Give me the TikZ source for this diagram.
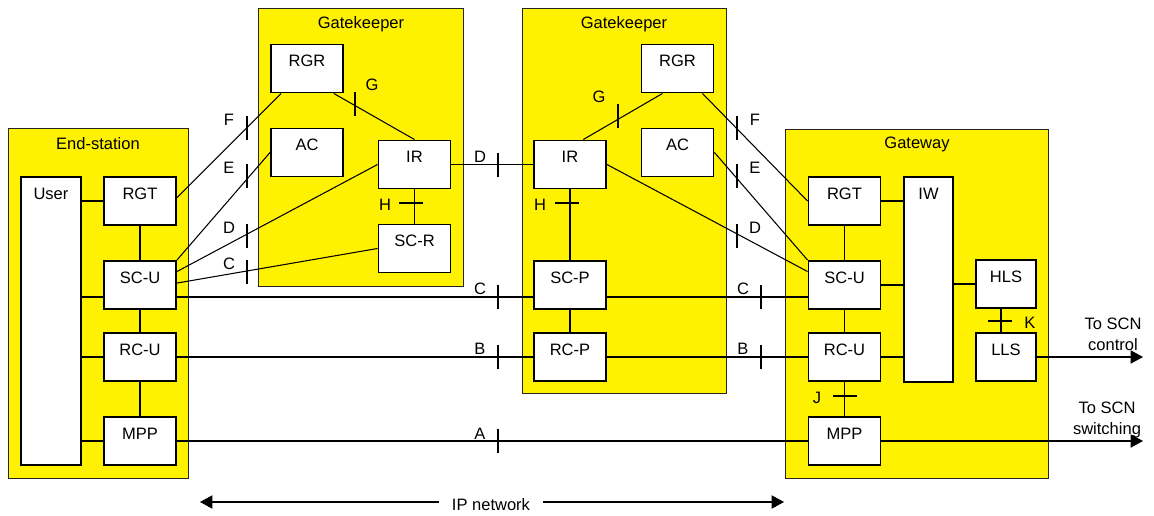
\documentclass[tikz,border=0pt]{standalone}
\usepackage{fontspec}
\setmainfont{Liberation Sans}
\usepackage{xcolor}
\usepackage{tikz}
\usetikzlibrary{arrows.meta}

\begin{document}
\begin{tikzpicture}[%
%
    x=0.02cm, y=-0.02cm,
    font=\fontsize{9.4}{12}\selectfont,
    zone/.style={draw=black!85, fill=yellow, line width=0.55pt},
    box/.style={draw, fill=white, line width=1.1pt, inner sep=0pt,
        minimum width=1.44cm, minimum height=0.96cm,
        text height=7pt, text depth=9.2pt},
    wire/.style={line width=0.6pt},
    lbl/.style={inner sep=0pt},
     Arr/.style={-{Triangle[length=7pt, width=7.5pt]}},
                        ]
    \useasboundingbox (0,0) rectangle (1154,516);

    % domains
    \draw[zone] (8,128) rectangle (188,478);
    \draw[zone] (258,8) rectangle (463,286);
    \draw[zone] (522,8) rectangle (726,393);
    \draw[zone] (785,129) rectangle (1048,478);
    \node[lbl] (es_title) at (98,144) {End-station};
    \node[lbl] (gk_title) at (361,24) {Gatekeeper};
    \node[lbl] (pk_title) at (624,24) {Gatekeeper};
    \node[lbl] (gw_title) at (917,144) {Gateway};

    % end-station
    \node[box, minimum width=1.2cm, minimum height=5.76cm, text depth=145.3pt] (user) at (51,321) {User};
    \node[box] (ergt) at (140,201) {RGT};
    \node[box] (escu) at (140,285) {SC-U};
    \node[box] (ercu) at (140,357) {RC-U};
    \node[box] (empp) at (140,441) {MPP};

    % first gatekeeper
    \node[box] (grgr) at (307,68.5) {RGR};
    \node[box] (gac)  at (307,152.5) {AC};
    \node[box] (gir)  at (414.5,164.5) {IR};
    \node[box] (gscr) at (414.5,248.5) {SC-R};

    % second gatekeeper
    \node[box] (prgr) at (677.5,68.5) {RGR};
    \node[box] (pac)  at (677.5,152.5) {AC};
    \node[box] (pir)  at (570,164.5) {IR};
    \node[box] (pscp) at (570,285) {SC-P};
    \node[box] (prcp) at (570,357) {RC-P};

    % gateway
    \node[box] (wrgt) at (844.5,201) {RGT};
    \node[box] (wscu) at (844.5,285) {SC-U};
    \node[box] (wrcu) at (844.5,357) {RC-U};
    \node[box] (wmpp) at (844.5,441) {MPP};
    \node[box, minimum width=0.98cm, minimum height=4.1cm, text depth=98.2pt] (wiw) at (928.5,279.5) {IW};
    \node[box, minimum width=1.2cm] (whls) at (1006,284) {HLS};
    \node[box, minimum width=1.2cm] (wlls) at (1006,357) {LLS};

    \node[lbl, align=center, anchor=north] (ctl_txt) at (1113,318) {To SCN\\control};
    \node[lbl, align=center, anchor=north] (sw_txt) at (1107,402) {To SCN\\switching};
    \coordinate (ctl_end) at (1143,357);
    \coordinate (sw_end) at (1143,441);

    \node[lbl] (ipnet) at (491,505) {IP network};
    \coordinate (ip_l) at (200,502);
    \coordinate (ip_r) at (784,502);

    % inside the end-station
    \draw[wire] (user.east |- ergt.west) -- (ergt.west);
    \draw[wire] (user.east |- escu.198) -- (escu.198);
    \draw[wire] (user.east |- ercu.west) -- (ercu.west);
    \draw[wire] (user.east |- empp.west) -- (empp.west);
    \draw[wire] (ergt) -- (escu) -- (ercu) -- (empp);

    % inside the gatekeepers
    \draw[wire] (grgr.317) -- (gir.north);
    \draw[wire] (gir) -- (gscr);
    \draw[wire] (prgr.239) -- (pir.62);
    \draw[wire] (pir) -- (pscp) -- (prcp);

    % inside the gateway
    \draw[wire] (wrgt) -- (wscu) -- (wrcu) -- (wmpp);
    \draw[wire] (wrgt.east) -- (wiw.west |- wrgt.east);
    \draw[wire] (wscu.east) -- (wiw.west |- wscu.east);
    \draw[wire] (wrcu.east) -- (wiw.west |- wrcu.east);
    \draw[wire] (wiw.east |- whls.west) -- (whls.west);
    \draw[wire] (whls.south -| 1001,0) -- (wlls.north -| 1001,0);

    % between the domains
    \draw[wire] (ergt.5) -- (grgr.224);
    \draw[wire] (escu.north east) -- (gac.west);
    \draw[wire] (escu.20) -- (gir.west);
    \draw[wire] (escu.3) -- (gscr.west);
    \draw[wire] (gir.east) -- (pir.west);
    \draw[wire] (escu.342) -- (pscp.198);
    \draw[wire] (ercu.east) -- (prcp.west);
    \draw[wire] (empp.east) -- (wmpp.west);
    \draw[wire] (prgr.315) -- (wrgt.west);
    \draw[wire] (pac.east) -- (wscu.north west);
    \draw[wire] (pir.east) -- (wscu.160);
    \draw[wire] (pscp.342) -- (wscu.198);
    \draw[wire] (prcp.east) -- (wrcu.west);

    % to the SCN
    \draw[wire, Arr] (wlls.east) -- (ctl_end);
    \draw[wire, Arr] (wmpp.east) -- (sw_end);

    % IP network
    \draw[wire, Arr] (ipnet.west |- ip_l) ++(-13,0) -- (ip_l);
    \draw[wire, Arr] (ipnet.east |- ip_r) ++(13,0) -- (ip_r);

    % reference points
    \foreach \x/\y/\lx/\ly/\t in {247/128/229/120/F, 247/176/229/168/E, 247/236/229/228/D, 247/272/229/264/C,
        498/165/480/157/D, 498/297/480/289/C, 498/357/480/349/B, 498/441/480/434/A,
        737/128/755/120/F, 737/176/755/168/E, 737/236/755/228/D,
        761/297/743/289/C, 761/357/743/349/B,
        355/104/372/85/G, 618/116/599/97/G}
    {
        \draw[wire] (\x,\y-12) -- (\x,\y+12);
        \node[lbl] (rp-\x-\y) at (\lx,\ly) {\t};
    }
    \foreach \x/\y/\lx/\t in {399/203/385/H, 555/203/540/H, 833/396/817/J, 988/321/1030/K}
    {
        \draw[wire] (\x,\y) -- (\x+24,\y);
        \node[lbl] (rp-\t-\x) at (\lx,\y+2) {\t};
    }

    \end{tikzpicture}
\end{document}
